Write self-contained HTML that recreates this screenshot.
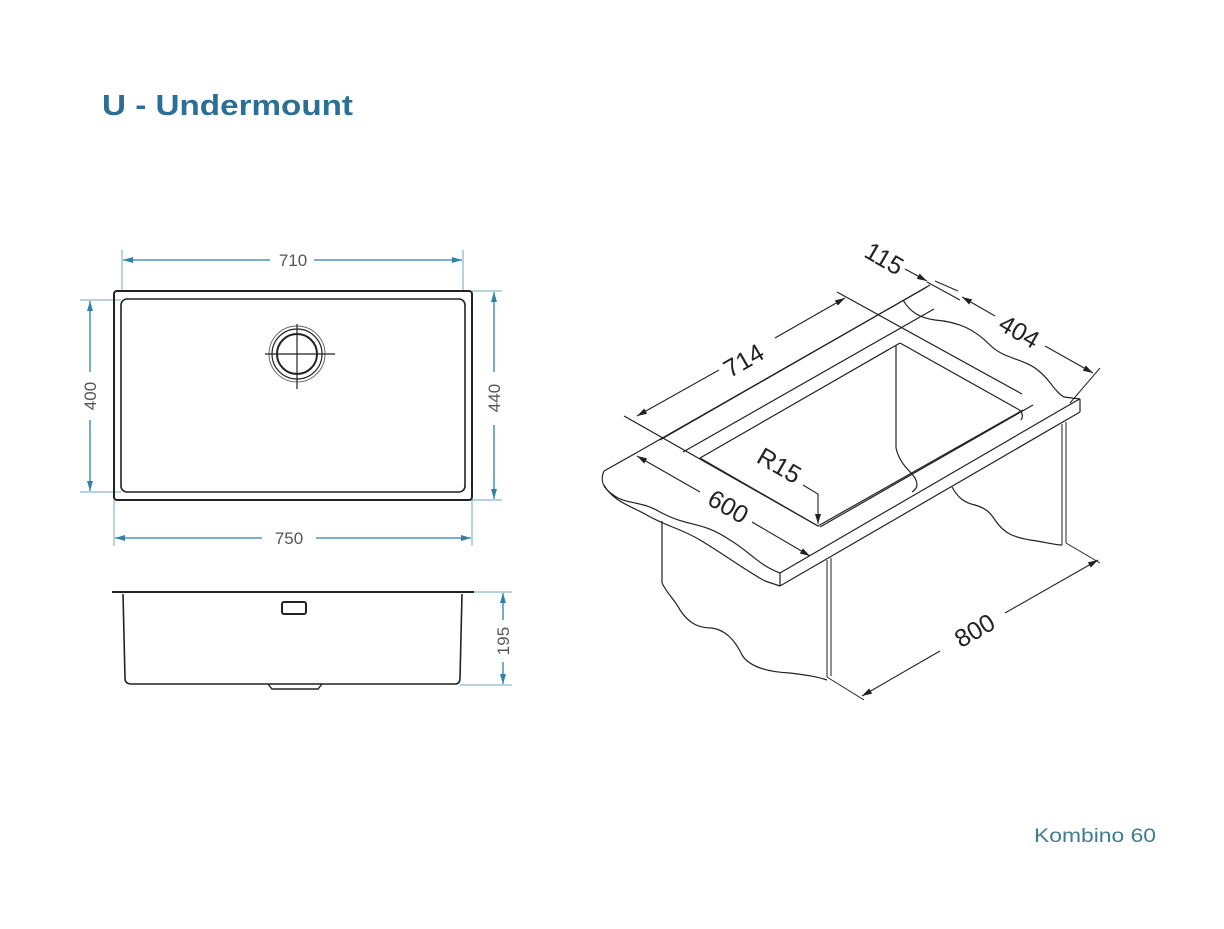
<!DOCTYPE html>
<html><head><meta charset="utf-8"><style>
html,body{margin:0;padding:0;background:#fff;}
svg{display:block}
</style></head><body>
<svg width="1224" height="929" viewBox="0 0 1224 929" xmlns="http://www.w3.org/2000/svg" font-family="Liberation Sans, sans-serif">
<defs>
<marker id="ab" viewBox="0 0 10 6" refX="10" refY="3" markerWidth="10" markerHeight="6" orient="auto-start-reverse" markerUnits="userSpaceOnUse"><path d="M0,0 L10,3 L0,6 z" fill="#2f80aa"/></marker>
<marker id="ak" viewBox="0 0 10 6" refX="10" refY="3" markerWidth="11" markerHeight="6" orient="auto-start-reverse" markerUnits="userSpaceOnUse"><path d="M0,0 L10,3 L0,6 z" fill="#222"/></marker>
</defs>
<rect width="1224" height="929" fill="#fff"/>
<text x="102" y="115" font-size="29" font-weight="bold" fill="#2c6f96" textLength="251" lengthAdjust="spacingAndGlyphs">U - Undermount</text>
<text x="1034" y="842" font-size="19" fill="#3d7c93" textLength="122" lengthAdjust="spacingAndGlyphs">Kombino 60</text>

<!-- LEFT PLAN VIEW -->
<g stroke="#6fa7c4" stroke-width="1" fill="none">
<line x1="122" y1="250" x2="122" y2="291"/><line x1="463" y1="250" x2="463" y2="291"/>
<line x1="472" y1="291" x2="502" y2="291"/><line x1="472" y1="500" x2="502" y2="500"/>
<line x1="114" y1="500" x2="114" y2="546"/><line x1="472" y1="500" x2="472" y2="546"/>
<line x1="80" y1="300" x2="121" y2="300"/><line x1="80" y1="492" x2="121" y2="492"/>
<line x1="474" y1="592" x2="512" y2="592"/><line x1="460" y1="685" x2="512" y2="685"/>
</g>
<g stroke="#2f80aa" stroke-width="1.3" fill="none">
<line x1="123" y1="260" x2="270" y2="260" marker-start="url(#ab)"/>
<line x1="314" y1="260" x2="462" y2="260" marker-end="url(#ab)"/>
<line x1="494" y1="292" x2="494" y2="372" marker-start="url(#ab)"/>
<line x1="494" y1="425" x2="494" y2="499" marker-end="url(#ab)"/>
<line x1="90" y1="301" x2="90" y2="372" marker-start="url(#ab)"/>
<line x1="90" y1="420" x2="90" y2="491" marker-end="url(#ab)"/>
<line x1="115" y1="538" x2="262" y2="538" marker-start="url(#ab)"/>
<line x1="316" y1="538" x2="471" y2="538" marker-end="url(#ab)"/>
<line x1="503" y1="593" x2="503" y2="620" marker-start="url(#ab)"/>
<line x1="503" y1="662" x2="503" y2="684" marker-end="url(#ab)"/>
</g>
<g font-size="17" fill="#555" text-anchor="middle">
<text x="293" y="266">710</text>
<text x="289" y="544">750</text>
<text transform="translate(500,398) rotate(-90)">440</text>
<text transform="translate(96,396) rotate(-90)">400</text>
<text transform="translate(509,641) rotate(-90)">195</text>
</g>
<g stroke="#222" fill="none">
<rect x="114" y="291" width="358" height="209" rx="3" stroke-width="2"/>
<rect x="121" y="299" width="344" height="193" rx="6" stroke-width="1.6"/>
<circle cx="297" cy="354" r="28" stroke-width="1" stroke="#666"/>
<circle cx="297" cy="354" r="25" stroke-width="1.2"/>
<circle cx="297" cy="354" r="20" stroke-width="2"/>
<line x1="265" y1="354" x2="335" y2="354" stroke-width="1.2"/>
<line x1="297" y1="324" x2="297" y2="389" stroke-width="1.2"/>
<line x1="112" y1="592" x2="474" y2="592" stroke-width="2"/>
<path d="M123,594 L125,678 Q125,684 131,684 L455,684 Q460,684 460,678 L462,594" stroke-width="1.6"/>
<rect x="282" y="602" width="24" height="12" rx="2" stroke-width="2"/>
<path d="M268,684 L272,689 L318,689 L322,684" stroke-width="1.4"/>
</g>

<!-- RIGHT ISOMETRIC -->
<g stroke="#222" stroke-width="1.2" fill="none" stroke-linejoin="round">
<path d="M604,471 C600,480 603,488 612,494 C625,505 640,500 660,512 C690,528 700,520 730,540 C750,552 760,566 780,573"/>
<path d="M604,485 C612,500 628,505 645,514 C665,526 680,528 700,540 C725,555 745,570 765,581 L780,586"/>
<line x1="604" y1="471" x2="636" y2="453"/>
<line x1="780" y1="573" x2="1076" y2="401"/>
<line x1="780" y1="586" x2="1080" y2="412"/>
<line x1="780" y1="573" x2="780" y2="586"/>
<line x1="1076" y1="401" x2="1080" y2="399"/>
<line x1="1080" y1="399" x2="1080" y2="412"/>
<line x1="1072" y1="398" x2="1080" y2="399"/>
<line x1="636" y1="453" x2="927" y2="287"/>
<line x1="660" y1="440" x2="930" y2="285"/>
<line x1="683" y1="452" x2="934" y2="309"/>
<line x1="700" y1="458" x2="900" y2="343"/>
<line x1="837" y1="292" x2="1022" y2="394"/>
<path d="M900,343 L1016,408 Q1024,412 1022,418 L1021,420"/>
<path d="M700,458 L818,526 L1023,410"/>
<line x1="624" y1="416" x2="818" y2="526"/>
<line x1="820" y1="527" x2="1033" y2="405"/>
<path d="M903,300 C910,312 920,318 935,320 C960,322 975,330 990,345 C1005,360 1025,358 1040,372 C1050,380 1055,392 1064,397 L1072,398"/>
<line x1="896" y1="345" x2="896" y2="448"/>
<path d="M896,448 C900,465 910,470 915,478 C918,484 918,488 912,492"/>
<line x1="662" y1="521" x2="662" y2="583"/>
<path d="M662,583 C668,595 675,600 680,610 C690,625 700,628 712,628 C725,630 735,640 742,655 C750,668 770,672 790,673 C805,675 815,676 827,680"/>
<line x1="827" y1="560" x2="827" y2="677" stroke-width="1"/>
<line x1="831" y1="558" x2="831" y2="676" stroke-width="1"/>
<line x1="1062" y1="424" x2="1062" y2="545" stroke-width="1"/>
<line x1="1066" y1="422" x2="1066" y2="543" stroke-width="1"/>
<path d="M952,487 C958,498 965,503 975,505 C985,508 990,512 995,520 C1005,535 1015,537 1030,540 C1045,542 1055,545 1062,545"/>
<line x1="827" y1="677" x2="864" y2="700" stroke-width="1"/>
<line x1="1066" y1="543" x2="1100" y2="563" stroke-width="1"/>
</g>
<g stroke="#222" stroke-width="1.1" fill="none">
<line x1="637" y1="416" x2="719" y2="370" marker-start="url(#ak)"/>
<line x1="775" y1="338" x2="845" y2="298" marker-end="url(#ak)"/>
<line x1="637" y1="456" x2="700" y2="492" marker-start="url(#ak)"/>
<line x1="752" y1="522" x2="810" y2="556" marker-end="url(#ak)"/>
<line x1="862" y1="696" x2="940" y2="651" marker-start="url(#ak)"/>
<line x1="1005" y1="613" x2="1098" y2="560" marker-end="url(#ak)"/>
<line x1="905" y1="269" x2="927" y2="281" marker-end="url(#ak)"/>
<line x1="927" y1="282" x2="960" y2="300"/>
<line x1="962" y1="297" x2="995" y2="316" marker-start="url(#ak)"/>
<line x1="1045" y1="346" x2="1093" y2="373" marker-end="url(#ak)"/>
<line x1="1070" y1="403" x2="1100" y2="368" stroke-width="1"/>
<line x1="935" y1="281" x2="958" y2="291" stroke-width="1"/>
<path d="M803,485 L818,494 L818,524" marker-end="url(#ak)"/>
</g>
<g font-size="25" fill="#222" text-anchor="middle">
<text transform="translate(748,368) rotate(-30)">714</text>
<text transform="translate(724,514) rotate(30)">600</text>
<text transform="translate(979,638) rotate(-30)">800</text>
<text transform="translate(880,266) rotate(30)">115</text>
<text transform="translate(1015,339) rotate(30)">404</text>
<text transform="translate(775,473) rotate(30)">R15</text>
</g>
</svg>
</body></html>
